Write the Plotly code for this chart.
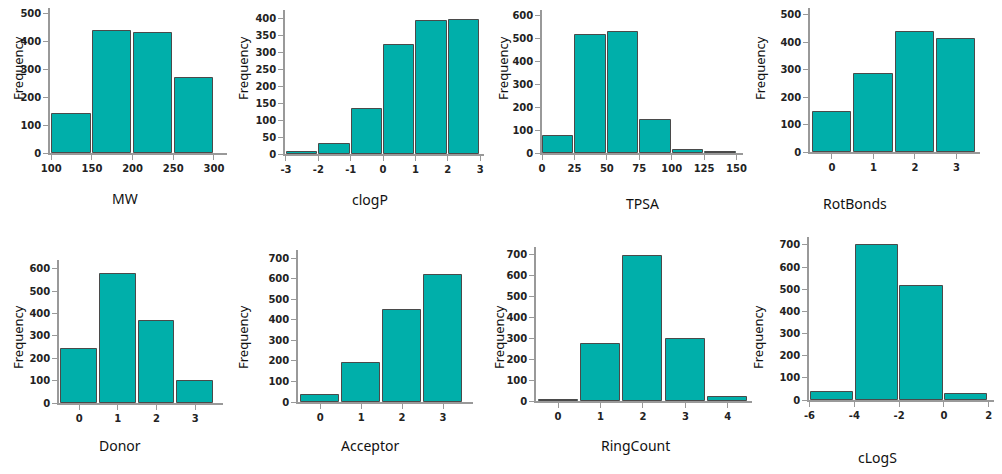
import plotly.graph_objects as go

W, H = 1002, 474
OFF = 8  # page body margin compensation

# ---- data ----
mw_edges = [100, 150, 200, 250, 300]
mw_counts = [140, 440, 430, 268]
clogp_edges = [-3, -2, -1, 0, 1, 2, 3]
clogp_counts = [5, 30, 133, 323, 393, 397]
tpsa_edges = [0, 25, 50, 75, 100, 125, 150]
tpsa_counts = [75, 517, 530, 144, 12, 3]
rot_cats = [0, 1, 2, 3]
rot_counts = [147, 283, 438, 413]
donor_cats = [0, 1, 2, 3]
donor_counts = [243, 577, 368, 97]
acc_cats = [0, 1, 2, 3]
acc_counts = [33, 188, 447, 617]
ring_cats = [0, 1, 2, 3, 4]
ring_counts = [5, 273, 695, 297, 18]
clogs_edges = [-6, -4, -2, 0, 2]
clogs_counts = [38, 700, 515, 28]

def from_edges(edges, counts):
    xs = [(a + b) / 2 for a, b in zip(edges[:-1], edges[1:])]
    ws = [(b - a) * 0.94 for a, b in zip(edges[:-1], edges[1:])]
    return xs, ws, counts, list(edges)

def from_cats(cats, counts):
    return list(cats), [0.92] * len(cats), counts, list(cats)

panels = [
    ("MW", from_edges(mw_edges, mw_counts), (50, 227), (5, 153), [98.5, 316], [0, 521], 100, (125, 198), 18, 68),
    ("clogP", from_edges(clogp_edges, clogp_counts), (285, 484), (10, 154), [-3.03, 3.12], [0, 426], 50, (370, 199), 243, 68),
    ("TPSA", from_edges(tpsa_edges, tpsa_counts), (542, 743), (10, 153), [0, 155], [0, 626], 100, (642, 203), 503, 68),
    ("RotBonds", from_cats(rot_cats, rot_counts), (810, 980), (0, 152), [-0.53, 3.57], [0, 524], 100, (855, 203), 760, 68),
    ("Donor", from_cats(donor_cats, donor_counts), (59, 223), (260, 403), [-0.52, 3.72], [0, 640], 100, (120, 445), 18, 337),
    ("Acceptor", from_cats(acc_cats, acc_counts), (298, 473), (250, 402), [-0.54, 3.73], [0, 739], 100, (370, 445), 243, 337),
    ("RingCount", from_cats(ring_cats, ring_counts), (536, 752), (247, 401), [-0.52, 4.57], [0, 738], 100, (635, 445), 499, 337),
    ("cLogS", from_edges(clogs_edges, clogs_counts), (809, 1000), (237, 400), [-6.02, 2.5], [0, 736], 100, (877, 457), 758, 337),
]

def px_x(v):
    return (v - OFF) / W

def px_y(v):
    return 1 - (v - OFF) / H

fig = go.Figure()
annotations = []
for i, (name, (xs, ws, ys, tv), xpx, ypx, xr, yr, dy, tpos, ylx, yly) in enumerate(panels, start=1):
    sfx = "" if i == 1 else str(i)
    fig.add_trace(go.Bar(
        x=xs, y=ys, width=ws, xaxis="x" + sfx, yaxis="y" + sfx,
        marker=dict(color="#00AFAA", line=dict(color="#4a4a4a", width=1)),
        showlegend=False, hoverinfo="x+y"))
    tickfont = dict(family="DejaVu Sans", size=10, color="#222", weight="bold")
    fig.layout["xaxis" + sfx] = dict(
        domain=[max(0, px_x(xpx[0])), min(1, px_x(xpx[1]))], range=xr, anchor="y" + sfx, automargin=False,
        showgrid=False, zeroline=False, showline=True, linecolor="#999", linewidth=1.5,
        ticks="outside", ticklen=5, tickcolor="#999",
        tickvals=tv, ticktext=[str(v) for v in tv],
        tickfont=tickfont, fixedrange=True)
    fig.layout["yaxis" + sfx] = dict(
        domain=[max(0, px_y(ypx[1])), min(1, px_y(ypx[0]))], range=yr, anchor="x" + sfx, automargin=False,
        showgrid=False, zeroline=False, showline=True, linecolor="#999", linewidth=1.5,
        ticks="outside", ticklen=5, tickcolor="#999", dtick=dy,
        tickfont=tickfont, fixedrange=True)
    annotations.append(dict(text=name, x=px_x(tpos[0]), y=px_y(tpos[1]), xref="paper", yref="paper",
                            xanchor="center", yanchor="middle",
                            showarrow=False, font=dict(family="Noto Sans", size=14, color="#111")))
    annotations.append(dict(text="Frequency", x=px_x(ylx), y=px_y(yly), xref="paper", yref="paper",
                            xanchor="center", yanchor="middle",
                            showarrow=False, textangle=-90, font=dict(family="Noto Sans", size=13, color="#111")))

fig.update_layout(width=W, height=H, margin=dict(l=0, r=0, t=0, b=0, autoexpand=False),
                  paper_bgcolor="white", plot_bgcolor="white",
                  annotations=annotations, bargap=0)
fig.write_html("out.html")
